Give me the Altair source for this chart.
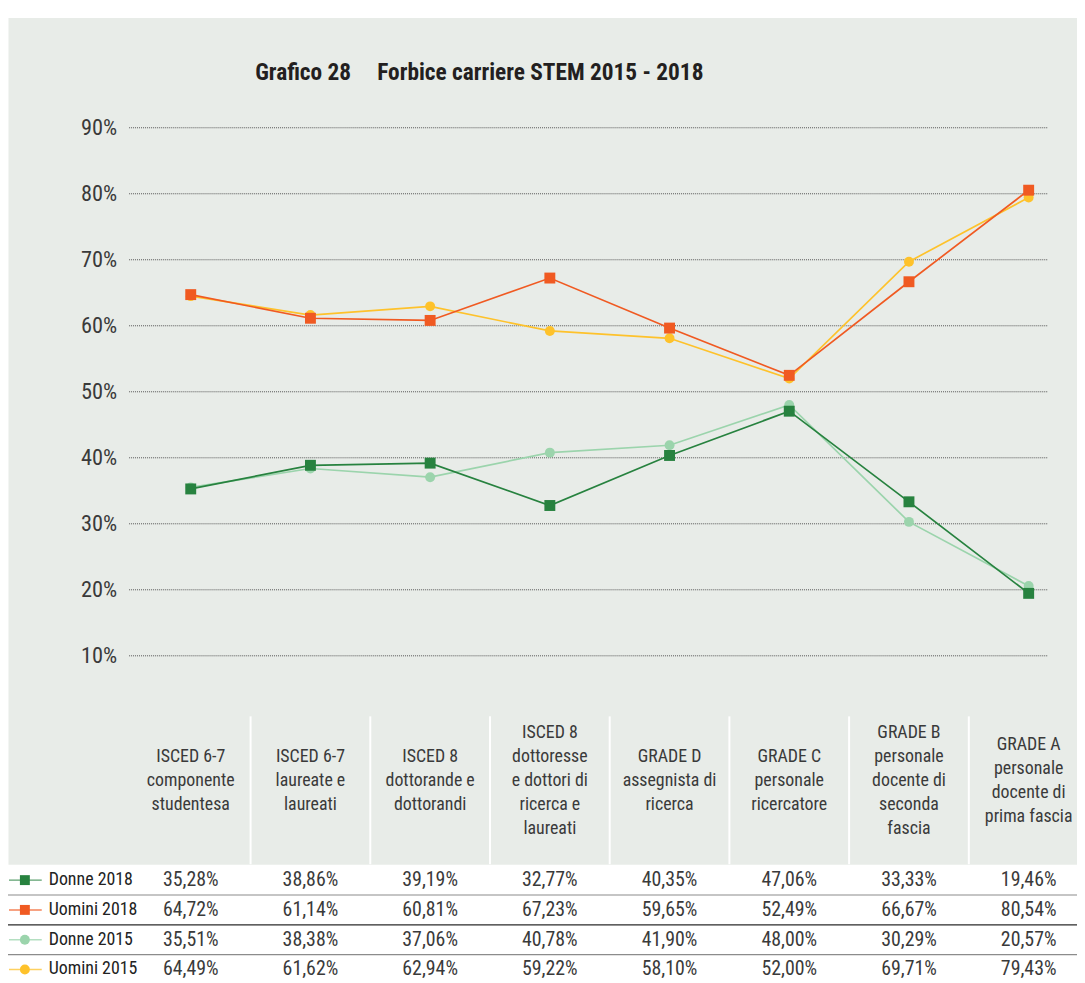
import altair as alt
import pandas as pd

# ---------------- data ----------------
categories = [
    "ISCED 6-7\ncomponente\nstudentesa",
    "ISCED 6-7\nlaureate e\nlaureati",
    "ISCED 8\ndottorande e\ndottorandi",
    "ISCED 8\ndottoresse\ne dottori di\nricerca e\nlaureati",
    "GRADE D\nassegnista di\nricerca",
    "GRADE C\npersonale\nricercatore",
    "GRADE B\npersonale\ndocente di\nseconda\nfascia",
    "GRADE A\npersonale\ndocente di\nprima fascia",
]
series_names = ["Donne 2018", "Uomini 2018", "Donne 2015", "Uomini 2015"]
donne_2018 = [35.28, 38.86, 39.19, 32.77, 40.35, 47.06, 33.33, 19.46]
uomini_2018 = [64.72, 61.14, 60.81, 67.23, 59.65, 52.49, 66.67, 80.54]
donne_2015 = [35.51, 38.38, 37.06, 40.78, 41.90, 48.00, 30.29, 20.57]
uomini_2015 = [64.49, 61.62, 62.94, 59.22, 58.10, 52.00, 69.71, 79.43]
y_ticks = [10, 20, 30, 40, 50, 60, 70, 80, 90]
title_number = "Grafico 28"
title_text = "Forbice carriere STEM 2015 - 2018"

# ---------------- styles ----------------
FONT = "Liberation Sans Narrow, Arial Narrow, Roboto Condensed, Roboto, sans-serif"
TXT = "#3a3a3a"
series_colors = ["#27823F", "#F05A22", "#9BD4AC", "#FEC22B"]
series_shapes = ["square", "square", "circle", "circle"]

rows = []
for name, vals in zip(series_names, [donne_2018, uomini_2018, donne_2015, uomini_2015]):
    for c, v in zip(categories, vals):
        rows.append({"series": name, "cat": c, "value": v,
                     "label": f"{v:.2f}".replace(".", ",") + "%"})
df = pd.DataFrame(rows)
df15 = df[df["series"].str.endswith("2015")]
df18 = df[df["series"].str.endswith("2018")]

# header lines (one text item per line, vertically centred per column)
hdr = []
for c in categories:
    parts = c.split("\n")
    n = len(parts)
    for i, p in enumerate(parts):
        hdr.append({"cat": c, "line": p, "pos": i - (n - 1) / 2})
hdr_df = pd.DataFrame(hdr)

W, H = 1077, 853
LH = 24.3
HC = 769
xscale = alt.Scale(type="band", domain=categories, range=[123.8, 1088.6],
                   paddingInner=0, paddingOuter=0)
yscale = alt.Scale(domain=[0, 100], range=[709.5, 44.5])
hscale = alt.Scale(domain=[-2, 2], range=[HC - 2 * LH, HC + 2 * LH])
rowscale = alt.Scale(type="band", domain=series_names, range=[854, 974],
                     paddingInner=0, paddingOuter=0)
colorscale = alt.Scale(domain=series_names, range=series_colors)
shapescale = alt.Scale(domain=series_names, range=series_shapes)

x_enc = alt.X("cat:N", scale=xscale, axis=None, sort=categories)

tick_df = pd.DataFrame({"tick": y_ticks, "tick_label": [f"{t}%" for t in y_ticks]})

grid = alt.Chart(tick_df).mark_rule(strokeDash=[1, 1], color="#555", strokeWidth=1).encode(
    y=alt.Y("tick:Q", scale=yscale, axis=None),
    x=alt.value(122), x2=alt.value(1048))

tick_labels = alt.Chart(tick_df).mark_text(
    align="right", baseline="middle", fontSize=22.5, font=FONT, color=TXT).encode(
    y=alt.Y("tick:Q", scale=yscale, axis=None),
    x=alt.value(110), text="tick_label:N")

def series_layers(d, shape, size):
    line = alt.Chart(d).mark_line(strokeWidth=1.7).encode(
        x=x_enc, y=alt.Y("value:Q", scale=yscale, axis=None),
        color=alt.Color("series:N", scale=colorscale, legend=None),
        detail="series:N")
    pts = alt.Chart(d).mark_point(shape=shape, size=size, filled=True, opacity=1).encode(
        x=x_enc, y=alt.Y("value:Q", scale=yscale, axis=None),
        color=alt.Color("series:N", scale=colorscale, legend=None))
    return [line, pts]

title_a = alt.Chart(pd.DataFrame({"t": [title_number]})).mark_text(
    align="left", baseline="middle", fontSize=23.5, fontWeight="bold", font=FONT,
    color="#231f20").encode(text="t:N", x=alt.value(249), y=alt.value(56))
title_b = alt.Chart(pd.DataFrame({"t": [title_text]})).mark_text(
    align="left", baseline="middle", fontSize=23.5, fontWeight="bold", font=FONT,
    color="#231f20").encode(text="t:N", x=alt.value(372), y=alt.value(56))

headers = alt.Chart(hdr_df).mark_text(
    fontSize=18, font=FONT, color=TXT, align="center", baseline="middle").encode(
    x=x_enc, y=alt.Y("pos:Q", scale=hscale, axis=None), text="line:N")

header_seps = alt.Chart(pd.DataFrame({"cat": categories[1:]})).mark_rule(
    color="white", strokeWidth=2).encode(
    x=alt.X("cat:N", scale=xscale, axis=None, sort=categories, bandPosition=0),
    y=alt.value(704), y2=alt.value(H))

row_df = pd.DataFrame({"row": series_names})
sep_gray = alt.Chart(pd.DataFrame({"row": [series_names[1], series_names[3]]})).mark_rule(
    strokeWidth=1.2, color="#8c8c8c").encode(
    y=alt.Y("row:N", scale=rowscale, axis=None, bandPosition=0),
    x=alt.value(0), x2=alt.value(W))
sep_dark = alt.Chart(pd.DataFrame({"row": [series_names[2]]})).mark_rule(
    strokeWidth=1.2, color="#2b2b2b").encode(
    y=alt.Y("row:N", scale=rowscale, axis=None, bandPosition=0),
    x=alt.value(0), x2=alt.value(W))

legend_lines = alt.Chart(row_df).mark_rule(strokeWidth=1.5, opacity=0.75).encode(
    y=alt.Y("row:N", scale=rowscale, axis=None, bandPosition=0.5),
    x=alt.value(1), x2=alt.value(34),
    color=alt.Color("row:N", scale=colorscale, legend=None))

legend_syms = alt.Chart(row_df).mark_point(filled=True, size=100, opacity=1).encode(
    y=alt.Y("row:N", scale=rowscale, axis=None),
    x=alt.value(17),
    color=alt.Color("row:N", scale=colorscale, legend=None),
    shape=alt.Shape("row:N", scale=shapescale, legend=None))

row_labels = alt.Chart(row_df).mark_text(
    align="left", baseline="middle", fontSize=18, font=FONT, color="#222").encode(
    y=alt.Y("row:N", scale=rowscale, axis=None),
    x=alt.value(41), text="row:N")

values = alt.Chart(df).mark_text(
    align="center", baseline="middle", fontSize=20, font=FONT, color=TXT).encode(
    x=x_enc, y=alt.Y("series:N", scale=rowscale, axis=None), text="label:N")

layers = [grid, tick_labels] + series_layers(df15, "circle", 100) + \
    series_layers(df18, "square", 121) + \
    [title_a, title_b, header_seps, headers, sep_gray, sep_dark, legend_lines,
     legend_syms, row_labels, values]

chart = alt.layer(*layers).resolve_scale(y="independent").properties(
    width=W, height=H,
    autosize=alt.AutoSizeParams(type="none"),
    padding={"top": 6, "left": 0, "right": 0, "bottom": 116},
    background="white",
).configure_view(fill="#E8ECE8", stroke="transparent")

chart.save("out.html", embed_options={"renderer": "svg", "actions": False})
